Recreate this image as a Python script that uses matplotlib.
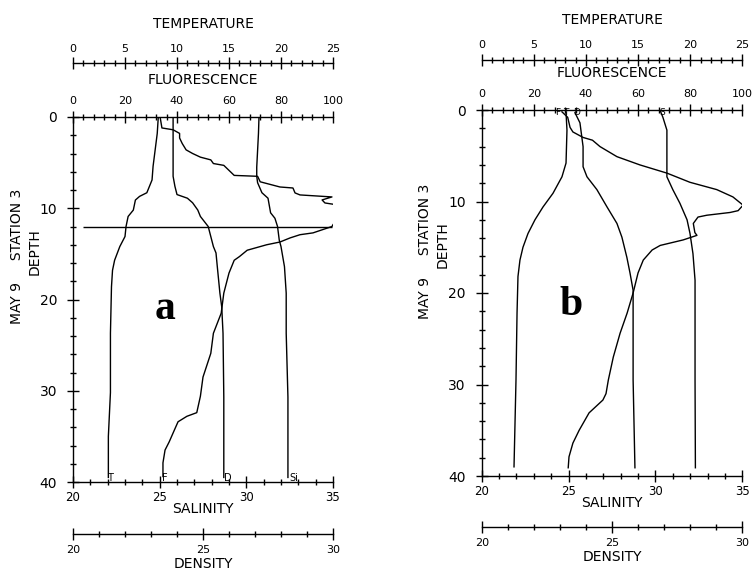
import matplotlib.pyplot as plt
from matplotlib.ticker import MultipleLocator

# Station 3, May 9 - profiles
# panel a
t_depth_a = [0, 1.8, 3.6, 5.4, 6.9, 8.3, 8.7, 9.1, 10.2, 10.9, 12.0, 13.1, 14.2, 15.7, 16.8, 18.6, 23.7, 30.2, 35.0, 39.5]
temp_a = [8.2, 8.1, 7.9, 7.7, 7.6, 7.1, 6.4, 6.0, 5.8, 5.3, 5.1, 5.0, 4.5, 4.0, 3.8, 3.7, 3.6, 3.6, 3.4, 3.4]

f_depth_a = [0, 1.2, 1.4, 1.8, 2.3, 2.9, 3.6, 4.0, 4.4, 4.7, 5.1, 5.3, 6.4, 6.5, 7.1, 7.67, 7.78, 8.32, 8.54,
             8.76, 9.09, 9.42, 9.64, 9.97, 10.5, 10.95, 11.5, 11.8, 12.0, 12.7, 12.9, 13.25, 13.7, 14.0, 14.6,
             15.3, 15.7, 17.1, 19.3, 21.5, 23.7, 25.9, 28.5, 30.6, 32.4, 32.8, 33.4, 34.3, 35.6, 36.5, 37.9, 39.4]
fluor_a = [33.5, 34.2, 38.5, 41, 41, 42, 43.5, 46, 49, 53, 54, 58, 62, 71, 72, 79.6, 84.6, 85.4, 87.3,
           99.6, 95.8, 96.9, 101.9, 103.5, 103.5, 101.5, 100.8, 100, 99.6, 92.3, 87.3, 83.5, 79.6, 74.5, 67,
           64, 62, 60, 58, 57, 54, 53, 50, 49, 47.6, 43.8, 40.4, 39, 37, 35.4, 34.6, 34.6]

d_depth_a = [0, 6.5, 7.6, 8.5, 8.9, 9.4, 10.2, 10.9, 12.0, 14.2, 14.9, 16.4, 19.3, 20.8, 23.7, 30.7, 39.5]
dens_a = [23.85, 23.85, 23.92, 24.0, 24.4, 24.6, 24.8, 24.9, 25.2, 25.4, 25.5, 25.55, 25.65, 25.72, 25.77, 25.8, 25.8]

s_depth_a = [0, 1.8, 5.5, 6.5, 7.2, 8.3, 8.9, 10.5, 11.1, 12.0, 13.5, 14.2, 16.4, 19.3, 23.7, 30.7, 39.5]
sal_a = [30.73, 30.7, 30.6, 30.6, 30.65, 30.9, 31.25, 31.4, 31.65, 31.8, 31.9, 32.0, 32.2, 32.3, 32.3, 32.4, 32.4]

# horizontal marker line across panel a (depth, fluorescence from/to)
mark_depth_a = 12.0
mark_span_a = [3.8, 99.6]

# panel b
t_depth_b = [0.3, 2.2, 5.8, 7.3, 9.1, 10.6, 12.0, 13.5, 15.0, 16.4, 18.2, 22.2, 29.5, 39.0]
temp_b = [8.09, 8.18, 8.09, 7.7, 6.84, 5.88, 5.11, 4.44, 3.96, 3.67, 3.48, 3.39, 3.29, 3.1]

f_depth_b = [0.2, 0.8, 1.9, 2.4, 3.0, 3.3, 4.0, 5.1, 6.0, 6.9, 7.9, 8.7, 9.5, 10.4, 11.0, 11.2, 11.5, 11.7,
             12.4, 13.4, 13.7, 14.2, 14.8, 15.3, 16.4, 17.8, 20.0, 22.2, 24.4, 27.0, 29.5, 31.0, 31.7, 33.1,
             35.0, 36.4, 37.9, 39.1]
fluor_b = [30.8, 33.0, 33.9, 35.0, 38.9, 42.5, 45.4, 51.9, 60.7, 71.1, 79.9, 90.2, 96.4, 100.3, 98.4, 95.3, 86.4, 83,
           81.2, 81.8, 82.6, 77.3, 68.5, 65.4, 62, 60, 58.1, 55.8, 53.1, 50.5, 48.6, 47.7, 46.5, 41.2,
           37.4, 35, 33.5, 33.2]

d_depth_b = [0.3, 1.4, 4.0, 6.2, 7.3, 8.7, 10.6, 12.4, 13.9, 16.1, 17.8, 19.7, 29.5, 39.1]
dens_b = [23.58, 23.77, 23.89, 23.89, 24.04, 24.42, 24.81, 25.19, 25.38, 25.57, 25.69, 25.81, 25.81, 25.88]

s_depth_b = [0, 0.8, 2.2, 5.8, 7.3, 8.7, 10.2, 12.0, 13.5, 15.7, 18.6, 29.5, 39.1]
sal_b = [30.26, 30.43, 30.66, 30.66, 30.66, 31.0, 31.41, 31.82, 31.99, 32.16, 32.28, 32.28, 32.3]

LW = 1.0


def style_x(a, lo, hi, major, minor, pad, size=8):
    a.set_xlim(lo, hi)
    a.xaxis.set_major_locator(MultipleLocator(major))
    a.xaxis.set_minor_locator(MultipleLocator(minor))
    a.tick_params(axis='x', which='major', direction='inout', length=8.5, width=LW, labelsize=size, pad=pad)
    a.tick_params(axis='x', which='minor', direction='inout', length=4.5, width=LW)


def make_panel(rect, top_off, bot_off):
    ax = fig.add_axes(rect)
    ax_s = ax.twiny()
    ax_t = ax.twiny()
    ax_d = ax.twiny()
    for a in (ax, ax_s, ax_t, ax_d):
        for sp in a.spines.values():
            sp.set_visible(False)
            sp.set_linewidth(LW)

    # fluorescence on top, depth on the left
    ax.spines['top'].set_visible(True)
    ax.spines['left'].set_visible(True)
    ax.xaxis.set_ticks_position('top')
    style_x(ax, 0, 100, 20, 4, 4)
    ax.set_ylim(40, 0)
    ax.yaxis.set_major_locator(MultipleLocator(10))
    ax.yaxis.set_minor_locator(MultipleLocator(2))
    ax.tick_params(axis='y', which='major', direction='inout', length=9, width=LW, labelsize=10, pad=7)
    ax.tick_params(axis='y', which='minor', direction='inout', length=5, width=LW)

    # salinity on the bottom
    ax_s.spines['bottom'].set_visible(True)
    ax_s.xaxis.set_ticks_position('bottom')
    style_x(ax_s, 20, 35, 5, 1, 2, size=8.5)

    # temperature above
    ax_t.spines['top'].set_visible(True)
    ax_t.spines['top'].set_position(('axes', top_off))
    ax_t.xaxis.set_ticks_position('top')
    style_x(ax_t, 0, 25, 5, 1, 2.5)

    # density below
    ax_d.spines['bottom'].set_visible(True)
    ax_d.spines['bottom'].set_position(('axes', bot_off))
    ax_d.xaxis.set_ticks_position('bottom')
    style_x(ax_d, 20, 30, 5, 1, 4)

    ax.text(0.5, top_off + 0.108, 'TEMPERATURE', transform=ax.transAxes, ha='center', va='center', fontsize=10)
    ax.text(0.5, 1.101, 'FLUORESCENCE', transform=ax.transAxes, ha='center', va='center', fontsize=10)
    ax.text(0.5, -0.073, 'SALINITY', transform=ax.transAxes, ha='center', va='center', fontsize=10)
    ax.text(0.5, bot_off - 0.083, 'DENSITY', transform=ax.transAxes, ha='center', va='center', fontsize=10)
    return ax, ax_s, ax_t, ax_d


fig = plt.figure(figsize=(7.52, 5.72), dpi=100)

# ---- panel a ----
ax, ax_s, ax_t, ax_d = make_panel([73 / 752, 90 / 572, 260 / 752, 365 / 572], 1.148, -0.142)
ax.plot(fluor_a, f_depth_a, color='black', lw=LW)
ax.hlines(mark_depth_a, mark_span_a[0], mark_span_a[1], color='black', lw=LW)
ax_s.plot(sal_a, s_depth_a, color='black', lw=LW)
ax_t.plot(temp_a, t_depth_a, color='black', lw=LW)
ax_d.plot(dens_a, d_depth_a, color='black', lw=LW)
# curve tags along the bottom
ax_t.annotate('T', (temp_a[-1], 39.6), xytext=(1, 0), textcoords='offset points', ha='center', va='center', fontsize=7)
ax.annotate('F', (fluor_a[-1], 39.6), xytext=(1, 0), textcoords='offset points', ha='center', va='center', fontsize=7)
ax_d.annotate('D', (dens_a[-1], 39.6), xytext=(3, 0), textcoords='offset points', ha='center', va='center', fontsize=7)
ax_s.annotate('Si', (sal_a[-1], 39.6), xytext=(4, 0), textcoords='offset points', ha='center', va='center', fontsize=7)

fig.text(17 / 752, 1 - 256 / 572, 'MAY 9     STATION 3', rotation=90, ha='center', va='center', fontsize=10)
fig.text(35 / 752, 1 - 252 / 572, 'DEPTH', rotation=90, ha='center', va='center', fontsize=10)
fig.text(165 / 752, 1 - 309 / 572, 'a', ha='center', va='center', fontsize=30,
         family='Liberation Serif', weight='bold')

# ---- panel b ----
bx, bx_s, bx_t, bx_d = make_panel([481.7 / 752, 96 / 572, 260.6 / 752, 366 / 572], 1.137, -0.139)
bx.plot(fluor_b, f_depth_b, color='black', lw=LW)
bx_s.plot(sal_b, s_depth_b, color='black', lw=LW)
bx_t.plot(temp_b, t_depth_b, color='black', lw=LW)
bx_d.plot(dens_b, d_depth_b, color='black', lw=LW)
# curve tags along the top
bx.annotate('F', (fluor_b[0], 0.3), xytext=(-3, 0), textcoords='offset points', ha='center', va='center', fontsize=6.5)
bx_t.annotate('T', (temp_b[0], 0.3), xytext=(0, 0), textcoords='offset points', ha='center', va='center', fontsize=6.5)
bx_d.annotate('D', (dens_b[0], 0.3), xytext=(1, 0), textcoords='offset points', ha='center', va='center', fontsize=6.5)
bx_s.annotate('S', (sal_b[0], 0.3), xytext=(1.5, 0), textcoords='offset points', ha='center', va='center', fontsize=6.5)

fig.text(425 / 752, 1 - 251 / 572, 'MAY 9     STATION 3', rotation=90, ha='center', va='center', fontsize=10)
fig.text(443 / 752, 1 - 245 / 572, 'DEPTH', rotation=90, ha='center', va='center', fontsize=10)
fig.text(571 / 752, 1 - 305 / 572, 'b', ha='center', va='center', fontsize=30,
         family='Liberation Serif', weight='bold')

fig.savefig('out.png', dpi=100)
